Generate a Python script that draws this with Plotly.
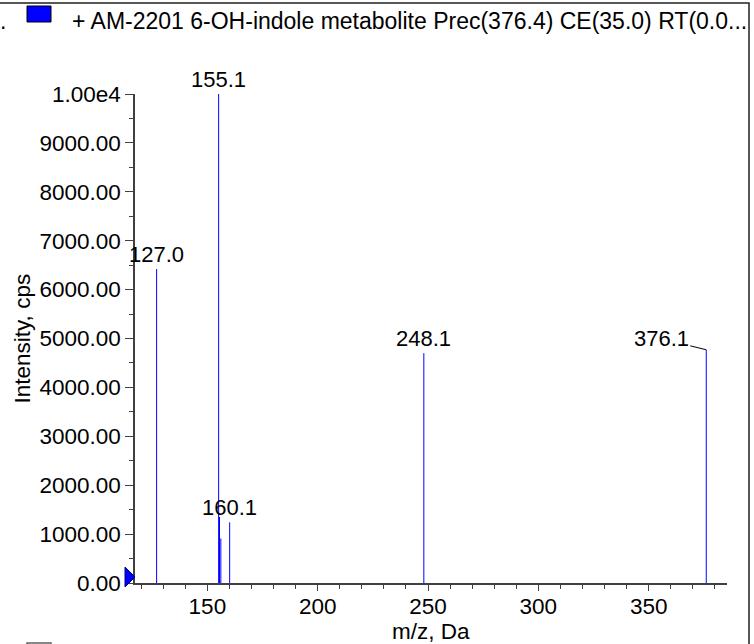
import plotly.graph_objects as go

# ---- data ----
mz = [127.0, 155.1, 155.5, 156.1, 160.1, 248.1, 376.1]
intensity = [6420, 10000, 1350, 910, 1240, 4700, 4770]
peak_labels = ["127.0", "155.1", "", "", "160.1", "248.1", "376.1"]
y_tickvals = [0, 1000, 2000, 3000, 4000, 5000, 6000, 7000, 8000, 9000, 10000]
y_ticktext = ["0.00", "1000.00", "2000.00", "3000.00", "4000.00", "5000.00",
              "6000.00", "7000.00", "8000.00", "9000.00", "1.00e4"]
x_tickvals = [150, 200, 250, 300, 350]
title_text = "+ AM-2201 6-OH-indole metabolite Prec(376.4) CE(35.0) RT(0.0..."

FONT = "Arial, Liberation Sans, sans-serif"
AX = "#404040"
X_MIN, X_MAX = 117.2, 385.5
FS = 22.5

# plot area in page pixels: left 135, right 727, top 94, bottom 583
def px_x(p):
    return (p - 135) / 592

def px_y(p):
    return (583 - p) / 489

# stems
xs, ys = [], []
for m, h in zip(mz, intensity):
    xs += [m, m, None]
    ys += [0, h, None]

fig = go.Figure()
fig.add_trace(go.Scatter(x=xs, y=ys, mode="lines",
                         line=dict(color="#0000ff", width=1),
                         hoverinfo="skip", showlegend=False))

annotations = []
for m, h, lab in zip(mz, intensity, peak_labels):
    if not lab:
        continue
    if lab == "376.1":
        annotations.append(dict(x=m, y=h, xref="x", yref="y", text=lab,
                                showarrow=True, arrowhead=0, arrowwidth=1,
                                arrowcolor="#000000", ax=-45, ay=-11,
                                font=dict(family=FONT, size=22, color="#000")))
    else:
        annotations.append(dict(x=m, y=h, xref="x", yref="y", text=lab,
                                showarrow=False, yanchor="bottom",
                                font=dict(family=FONT, size=22, color="#000")))

# axis titles
annotations.append(dict(x=0.5, y=px_y(631), xref="paper", yref="paper",
                        text="m/z, Da", showarrow=False, yanchor="middle",
                        font=dict(family=FONT, size=FS, color="#000")))
annotations.append(dict(x=px_x(22), y=0.5, xref="paper", yref="paper",
                        text="Intensity, cps", showarrow=False, textangle=-90,
                        xanchor="center", yanchor="middle",
                        font=dict(family=FONT, size=FS, color="#000")))
# header title
annotations.append(dict(x=px_x(70), y=px_y(21), xref="paper", yref="paper",
                        xanchor="left", yanchor="middle", text=title_text,
                        showarrow=False,
                        font=dict(family=FONT, size=23, color="#000")))
annotations.append(dict(x=px_x(3), y=px_y(21), xref="paper", yref="paper",
                        xanchor="center", yanchor="middle", text=".",
                        showarrow=False,
                        font=dict(family=FONT, size=23, color="#000")))

shapes = [
    # outer frame
    dict(type="rect", xref="paper", yref="paper",
         x0=px_x(-5), x1=px_x(749), y0=px_y(700), y1=px_y(3),
         line=dict(color="#202020", width=1.5), fillcolor="rgba(0,0,0,0)",
         layer="below"),
    # legend swatch
    dict(type="rect", xref="paper", yref="paper",
         x0=px_x(27), x1=px_x(51), y0=px_y(22), y1=px_y(6),
         line=dict(color="#000", width=1), fillcolor="#0000ff"),
    # next swatch (cut off)
    dict(type="rect", xref="paper", yref="paper",
         x0=px_x(27), x1=px_x(51), y0=px_y(660), y1=px_y(643),
         line=dict(color="#606060", width=1.5), fillcolor="#ffffff"),
    # zero marker triangle
    dict(type="path", xref="paper", yref="paper",
         xsizemode="pixel", ysizemode="pixel", xanchor=0, yanchor=0,
         path="M -10,-4 L 0,6 L -10,16 Z",
         fillcolor="#0000ff", line=dict(color="#000080", width=1)),
]

fig.update_layout(
    width=754, height=644, autosize=False,
    margin=dict(l=135, r=27, t=94, b=61, pad=0),
    paper_bgcolor="#ffffff", plot_bgcolor="#ffffff",
    font=dict(family=FONT, size=FS, color="#000"),
    showlegend=False,
    annotations=annotations,
    shapes=shapes,
    xaxis=dict(range=[X_MIN, X_MAX], showgrid=False, zeroline=False,
               showline=True, linecolor=AX, linewidth=1.5,
               tickmode="array", tickvals=x_tickvals,
               ticks="outside", ticklen=6, tickcolor=AX, tickwidth=1,
               ticklabelstandoff=-4,
               minor=dict(dtick=10, tick0=0, ticks="outside", ticklen=4,
                          tickcolor=AX, tickwidth=1, showgrid=False),
               tickfont=dict(family=FONT, size=FS, color="#000")),
    yaxis=dict(range=[0, 10000], showgrid=False, zeroline=False,
               showline=True, linecolor=AX, linewidth=1.5,
               tickmode="array", tickvals=y_tickvals, ticktext=y_ticktext,
               ticks="outside", ticklen=8, tickcolor=AX, tickwidth=1,
               minor=dict(dtick=500, tick0=0, ticks="outside", ticklen=4,
                          tickcolor=AX, tickwidth=1, showgrid=False),
               tickfont=dict(family=FONT, size=FS, color="#000")),
)

fig.write_html("out.html",
               config={"displayModeBar": False},
               post_script="document.body.style.margin='0';"
                           "document.body.style.overflow='hidden';")
